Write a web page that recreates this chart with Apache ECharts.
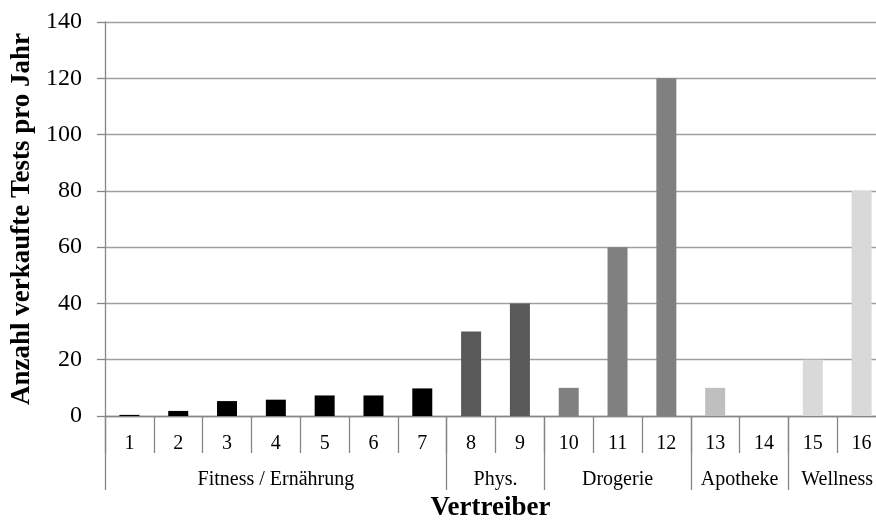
<!DOCTYPE html>
<html><head><meta charset="utf-8">
<script src="https://cdn.jsdelivr.net/npm/echarts@6/dist/echarts.min.js"></script>
<style>html,body{margin:0;padding:0;background:#fff}#c{width:876px;height:522px}</style>
</head><body><div id="c"></div>
<script>
const categories = ['1','2','3','4','5','6','7','8','9','10','11','12','13','14','15','16'];
const values = [0.4, 1.8, 5.3, 5.8, 7.3, 7.3, 9.8, 30, 40, 10, 60, 120, 10, 0, 20, 80];
const groupIndex = [0,0,0,0,0,0,0,1,1,2,2,2,3,3,4,4];
const groupNames = ['Fitness / Ernährung', 'Phys.', 'Drogerie', 'Apotheke', 'Wellness'];
const groupBounds = [0, 7, 9, 12, 14, 16];
const groupColors = ['#000000', '#595959', '#808080', '#bfbfbf', '#d9d9d9'];
const yTicks = [0, 20, 40, 60, 80, 100, 120, 140];

const groupCenters = groupNames.map((_, i) => (groupBounds[i] + groupBounds[i + 1]) / 2);
const font = '"Liberation Serif", "Times New Roman", serif';
const axisGray = '#868686';

const chart = echarts.init(document.getElementById('c'));
chart.setOption({
  animation: false,
  grid: { left: 105, top: 22, right: -10, bottom: 106, outerBoundsMode: 'none', containLabel: false },
  xAxis: [
    {
      type: 'category', data: categories, position: 'bottom',
      axisLine: { lineStyle: { color: axisGray, width: 1.3 } },
      axisTick: { show: true, interval: 0, length: 37, lineStyle: { color: axisGray, width: 1.3 } },
      axisLabel: { interval: 0, margin: 18, color: '#000', fontFamily: font, fontSize: 20 }
    },
    {
      type: 'value', min: 0, max: 16, position: 'bottom',
      axisLine: { show: false },
      splitLine: { show: false },
      axisTick: { show: true, length: 74, customValues: groupBounds, lineStyle: { color: axisGray, width: 1.3 } },
      axisLabel: {
        margin: 54, color: '#000', fontFamily: font, fontSize: 20,
        customValues: groupCenters,
        formatter: (v) => { const i = groupCenters.indexOf(v); return i >= 0 ? groupNames[i] : ''; }
      },
      name: 'Vertreiber', nameLocation: 'middle', nameGap: 79,
      nameTextStyle: { color: '#000', fontFamily: font, fontSize: 27, fontWeight: 'bold', padding: [0, 10, 0, 0] }
    }
  ],
  yAxis: {
    type: 'value', min: yTicks[0], max: yTicks[yTicks.length - 1], interval: 20,
    axisLine: { show: true, lineStyle: { color: axisGray, width: 1.3 } },
    axisTick: { show: true, length: 8, lineStyle: { color: axisGray, width: 1.3 } },
    splitLine: { lineStyle: { color: '#a0a0a0', width: 1.3 } },
    axisLabel: { margin: 23, color: '#000', fontFamily: font, fontSize: 24 },
    name: 'Anzahl verkaufte Tests pro Jahr', nameLocation: 'middle', nameRotate: 90, nameGap: 67,
    nameTextStyle: { color: '#000', fontFamily: font, fontSize: 27, fontWeight: 'bold' }
  },
  series: [{
    type: 'bar', xAxisIndex: 0, barWidth: 20,
    data: values.map((v, i) => ({ value: v, itemStyle: { color: groupColors[groupIndex[i]] } }))
  }]
});
</script></body></html>
